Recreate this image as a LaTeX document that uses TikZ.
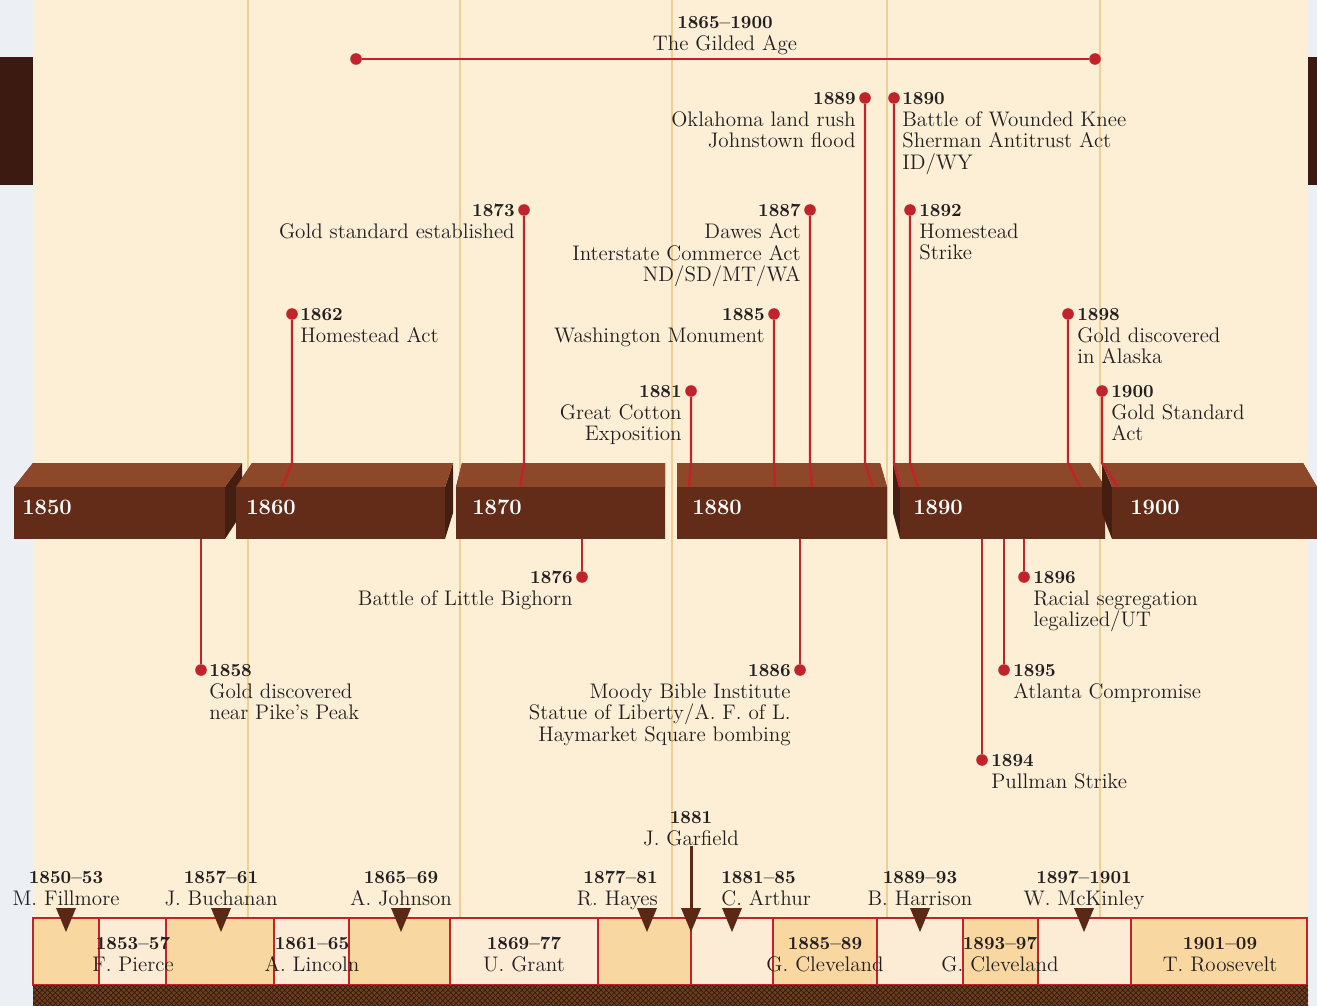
\documentclass[tikz,border=0pt]{standalone}
\usetikzlibrary{patterns}
\newcommand\yr[1]{{\fontsize{10.5}{12.3}\selectfont\bfseries #1}}
\begin{document}
\begin{tikzpicture}[x=0.02cm, y=-0.02cm,
  evtext/.style={font=\fontsize{12}{12.3}\selectfont, inner sep=0pt, text=inkgray},
  evright/.style={evtext, anchor=north west, align=left},
  evleft/.style={evtext, anchor=north east, align=right},
  evmid/.style={evtext, anchor=north, align=center},
  evdot/.style={circle, fill=tlred, inner sep=0pt, minimum size=6.6pt},
  stem/.style={draw=tlred, line width=1.4pt},
  decadelbl/.style={text=white, font=\fontsize{12.5}{14}\selectfont\bfseries, anchor=west, inner sep=0pt},
  presbox/.style={draw=tlred, line width=1.1pt},
  ptr/.style={fill=ptrbrown}]
\definecolor{tlred}{RGB}{192,36,42}
\definecolor{inkgray}{RGB}{35,31,32}
\definecolor{parch}{RGB}{252,239,214}
\definecolor{edge}{RGB}{236,239,244}
\definecolor{tabbrown}{RGB}{60,26,18}
\definecolor{gridtan}{RGB}{240,207,150}
\definecolor{blocktop}{RGB}{140,72,40}
\definecolor{blockfront}{RGB}{98,44,24}
\definecolor{blockside}{RGB}{68,30,16}
\definecolor{peachdk}{RGB}{249,215,160}
\definecolor{peachlt}{RGB}{252,235,213}
\definecolor{ptrbrown}{RGB}{90,40,20}
\definecolor{weave}{RGB}{112,62,30}
\pgfmathsetmacro\ytop{463}
\pgfmathsetmacro\ymid{487}
\pgfmathsetmacro\ybot{539}
\useasboundingbox (0,0) rectangle (1317,1006);
\fill[edge] (0,0) rectangle (1317,1006);
\fill[parch] (33,0) rectangle (1308,1006);
\fill[tabbrown] (0,57) rectangle (33,185);
\fill[tabbrown] (1308,57) rectangle (1317,185);
\foreach \x in {248,460,672,887,1100} \draw[gridtan, line width=1.1pt] (\x,0) -- (\x,918);
\foreach \a/\b/\c in {33/99/peachdk, 99/166/peachlt, 166/274/peachdk, 274/349/peachlt, 349/450/peachdk, 450/598/peachlt, 598/691/peachdk, 691/773/peachlt, 773/877/peachdk, 877/963/peachlt, 963/1038/peachdk, 1038/1131/peachlt, 1131/1307/peachdk} \draw[presbox, fill=\c] (\a,918) rectangle (\b,985);
\fill[weave] (33,985) rectangle (1308,1006);
\fill[pattern=crosshatch, pattern color=black!55!weave] (33,985) rectangle (1308,1006);
\foreach \xl/\xr/\tl/\tr/\lx/\yy in {14/225/33/242/22/1850, 236/445/252/453/246/1860, 456/665/462/665/472/1870, 677/887/677/880/692/1880, 900/1105/893/1090/913/1890, 1112/1317/1102/1303/1130/1900} {
  \fill[blockside] (\xr,\ymid) -- (\tr,\ytop) -- (\tr,513) -- (\xr,\ybot) -- cycle;
  \fill[blockside] (\xl,\ymid) -- (\tl,\ytop) -- (\tl,513) -- (\xl,\ybot) -- cycle;
  \fill[blocktop] (\xl,\ymid) -- (\tl,\ytop) -- (\tr,\ytop) -- (\xr,\ymid) -- cycle;
  \fill[blockfront] (\xl,\ymid) rectangle (\xr,\ybot);
  \node[decadelbl] (b\yy) at (\lx,507) {\yy};
}
\coordinate (rimtop) at (0,\ytop);
\coordinate (rimbot) at (0,\ybot);
\foreach \n/\x/\y in {1858/201/670, 1862/292/314, 1873/524/210, 1876/582/577, 1881/691/391, 1885/774/314, 1886/800/670, 1887/810/210, 1889/865/98, 1890/894/98, 1892/910/210, 1894/982/760, 1895/1004/670, 1896/1024/577, 1898/1068/314, 1900/1102/391} \node[evdot] (d\n) at (\x,\y) {};
\foreach \n/\fx in {1862/282, 1873/520, 1881/689, 1885/775, 1887/812, 1889/873, 1890/900, 1892/918, 1898/1080, 1900/1118} {
  \coordinate (f\n) at (\fx,\ymid);
  \draw[stem] (d\n) -- (d\n |- rimtop) -- (f\n);
}
\foreach \n in {1858,1876,1886,1894,1895,1896} \draw[stem] (d\n |- rimbot) -- (d\n);
\node[evdot] (gA) at (356,59) {};
\node[evdot] (gB) at (1095,59) {};
\draw[stem] (gA) -- (gB);
\node[evmid] (gilded) at (725,16) {\yr{1865--1900}\\The Gilded Age};
\node[evright] (t1858) at ([shift={(8,-6)}]d1858.center) {\yr{1858}\\Gold discovered\\near Pike's Peak};
\node[evright] (t1862) at ([shift={(8,-6)}]d1862.center) {\yr{1862}\\Homestead Act};
\node[evleft] (t1873) at ([shift={(-9,-6)}]d1873.center) {\yr{1873}\\Gold standard established};
\node[evleft] (t1876) at ([shift={(-9,-6)}]d1876.center) {\yr{1876}\\Battle of Little Bighorn};
\node[evleft] (t1881) at ([shift={(-9,-6)}]d1881.center) {\yr{1881}\\Great Cotton\\Exposition};
\node[evleft] (t1885) at ([shift={(-9,-6)}]d1885.center) {\yr{1885}\\Washington Monument};
\node[evleft] (t1886) at ([shift={(-9,-6)}]d1886.center) {\yr{1886}\\Moody Bible Institute\\Statue of Liberty/A. F. of L.\\Haymarket Square bombing};
\node[evleft] (t1887) at ([shift={(-9,-6)}]d1887.center) {\yr{1887}\\Dawes Act\\Interstate Commerce Act\\ND/SD/MT/WA};
\node[evleft] (t1889) at ([shift={(-9,-6)}]d1889.center) {\yr{1889}\\Oklahoma land rush\\Johnstown flood};
\node[evright] (t1890) at ([shift={(8,-6)}]d1890.center) {\yr{1890}\\Battle of Wounded Knee\\Sherman Antitrust Act\\ID/WY};
\node[evright] (t1892) at ([shift={(9,-6)}]d1892.center) {\yr{1892}\\Homestead\\Strike};
\node[evright] (t1894) at ([shift={(9,-6)}]d1894.center) {\yr{1894}\\Pullman Strike};
\node[evright] (t1895) at ([shift={(9,-6)}]d1895.center) {\yr{1895}\\Atlanta Compromise};
\node[evright] (t1896) at ([shift={(9,-6)}]d1896.center) {\yr{1896}\\Racial segregation\\legalized/UT};
\node[evright] (t1898) at ([shift={(9,-6)}]d1898.center) {\yr{1898}\\Gold discovered\\in Alaska};
\node[evright] (t1900) at ([shift={(9,-6)}]d1900.center) {\yr{1900}\\Gold Standard\\Act};
\foreach \x in {66,221,401,647,691,732,920,1084} \fill[ptr] (\x-10,908) -- (\x+10,908) -- (\x,932) -- cycle;
\node[evmid] (pFillmore) at (66,871) {\yr{1850--53}\\M. Fillmore};
\node[evmid] (pBuchanan) at (221,871) {\yr{1857--61}\\J. Buchanan};
\node[evmid] (pJohnson) at (401,871) {\yr{1865--69}\\A. Johnson};
\node[evleft] (pHayes) at (658,871) {\yr{1877--81}\\R. Hayes};
\node[evright] (pArthur) at (721,871) {\yr{1881--85}\\C. Arthur};
\node[evmid] (pHarrison) at (920,871) {\yr{1889--93}\\B. Harrison};
\node[evmid] (pMcKinley) at (1084,871) {\yr{1897--1901}\\W. McKinley};
\node[evmid] (pGarfield) at (691,811) {\yr{1881}\\J. Garfield};
\coordinate (gfTip) at (691,925);
\draw[draw=ptrbrown, line width=1.7pt] (pGarfield.south) -- (gfTip);
\node[evmid] (pPierce) at (133,937) {\yr{1853--57}\\F. Pierce};
\node[evmid] (pLincoln) at (312,937) {\yr{1861--65}\\A. Lincoln};
\node[evmid] (pGrant) at (524,937) {\yr{1869--77}\\U. Grant};
\node[evmid] (pCleveland) at (825,937) {\yr{1885--89}\\G. Cleveland};
\node[evmid] (pClevelandB) at (1000,937) {\yr{1893--97}\\G. Cleveland};
\node[evmid] (pRoosevelt) at (1220,937) {\yr{1901--09}\\T. Roosevelt};
\end{tikzpicture}
\end{document}
